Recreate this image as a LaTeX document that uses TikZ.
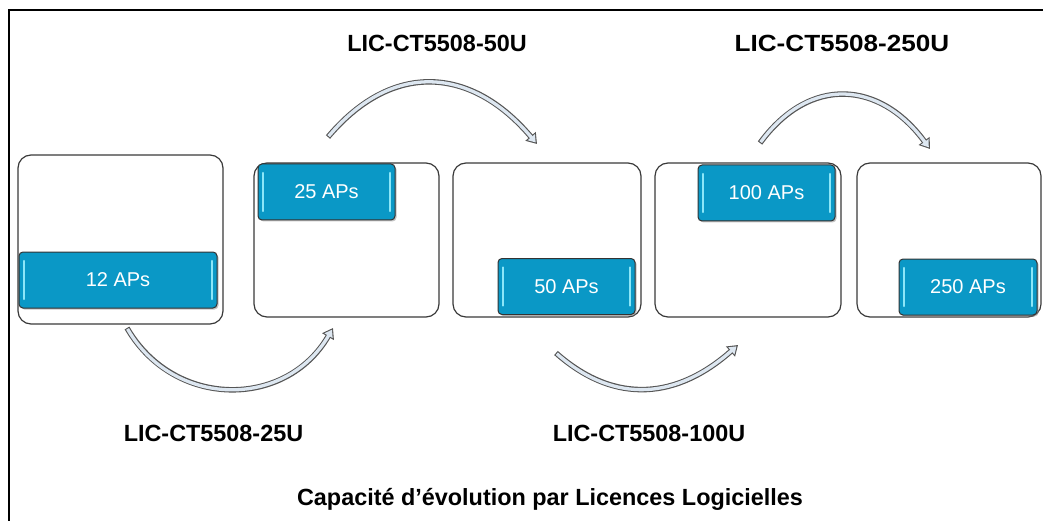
\documentclass[tikz,border=0pt]{standalone}
\usepackage{fontspec}
\setmainfont{Liberation Sans}
\usetikzlibrary{arrows.meta,shadows}
\definecolor{btnblue}{HTML}{0A98C6}
\definecolor{btnline}{HTML}{333333}
\definecolor{btnhl}{HTML}{8CE6F8}
\definecolor{boxline}{HTML}{3A3A3A}
\definecolor{arrline}{HTML}{555555}
\definecolor{arrfill}{HTML}{DDE7F1}
\tikzset{
  bigbox/.style={draw=boxline, line width=1.2pt, fill=white, rounded corners=13pt, inner sep=0pt, minimum height=154pt},
  apbtn/.style={draw=btnline, line width=1pt, fill=btnblue, rounded corners=4pt, text=white,
    font=\fontsize{20}{24}\selectfont, inner sep=0pt, minimum height=56pt,
    drop shadow={shadow xshift=1.5pt, shadow yshift=-1.5pt, fill=black!45, opacity=0.5},
    path picture={
      \draw[btnhl, line width=2.2pt, line cap=round]
        ([xshift=5pt,yshift=-9pt]path picture bounding box.north west) -- ([xshift=5pt,yshift=9pt]path picture bounding box.south west);
      \draw[btnhl, line width=2.2pt, line cap=round]
        ([xshift=-5pt,yshift=-9pt]path picture bounding box.north east) -- ([xshift=-5pt,yshift=9pt]path picture bounding box.south east);
    }},
  lic/.style={font=\bfseries\fontsize{23.4}{28}\selectfont, inner sep=0pt, anchor=base},
  arrout/.style={draw=arrline, line width=5.5pt, -{Triangle[length=10pt,width=13pt]}},
  arrin/.style={draw=arrfill, line width=3.3pt, -{Triangle[length=6.9pt,width=9pt]}, shorten >=2pt, shorten <=1.1pt},
}
\begin{document}
\begin{tikzpicture}[x=1pt,y=-1pt]
\useasboundingbox (0,0) rectangle (1043,521);
% frame
\coordinate (fbl) at (9,521);
\coordinate (ftl) at (9,10);
\coordinate (ftr) at (1043,10);
\draw[line width=2pt] (fbl) -- (ftl) -- (ftr);

% big boxes
\node[bigbox, minimum width=205pt, minimum height=169pt] (box1) at (120.5,239.5) {};
\node[bigbox, minimum width=185pt] (box2) at (346.5,240) {};
\node[bigbox, minimum width=188pt] (box3) at (547,240) {};
\node[bigbox, minimum width=186pt] (box4) at (748,240) {};
\node[bigbox, minimum width=184pt] (box5) at (949,240) {};

% buttons
\node[apbtn, minimum width=198pt] (b1) at (118,280) {12 APs};
\node[apbtn, minimum width=137pt] (b2) at (326.5,192) {25 APs};
\node[apbtn, minimum width=137pt] (b3) at (566.5,286.5) {50 APs};
\node[apbtn, minimum width=137pt] (b4) at (766.5,193) {100 APs};
\node[apbtn, minimum width=138pt] (b5) at (968,287) {250 APs};

% arrows
\coordinate (a1s) at (127,328);  \coordinate (a1e) at (333,328);
\coordinate (a2s) at (328,137);  \coordinate (a2e) at (537,144);
\coordinate (a3s) at (556,353);  \coordinate (a3e) at (738,345);
\coordinate (a4s) at (760,143);  \coordinate (a4e) at (930,149);
\foreach \s in {arrout,arrin}{
  \draw[\s] (a1s) .. controls (174,409) and (286,409) .. (a1e);
  \draw[\s] (a2s) .. controls (393,60) and (472,67) .. (a2e);
  \draw[\s] (a3s) .. controls (616,406) and (678,398) .. (a3e);
  \draw[\s] (a4s) .. controls (810,75) and (880,81) .. (a4e);
}

% labels
\node[lic] (l50) at (437,52) {LIC-CT5508-50U};
\node[lic] (l250) at (842,52) {\scalebox{1.115}[1]{LIC-CT5508-250U}};
\node[lic] (l25) at (213.5,441) {LIC-CT5508-25U};
\node[lic] (l100) at (649,441) {LIC-CT5508-100U};
\node[lic] (cap) at (550,505) {Capacité d’évolution par Licences Logicielles};
\end{tikzpicture}
\end{document}
